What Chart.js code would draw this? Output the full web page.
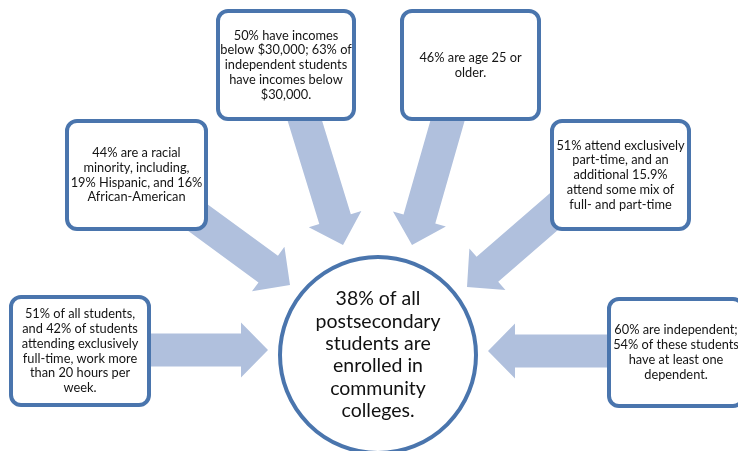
<!DOCTYPE html>
<html>
<head>
<meta charset="utf-8">
<script src="https://cdn.jsdelivr.net/npm/chart.js@4/dist/chart.umd.min.js"></script>
<style>
  html, body { margin: 0; padding: 0; background: #fff; }
  #wrap { width: 738px; height: 451px; position: relative; }
</style>
</head>
<body>
<div id="wrap"><canvas id="chart"></canvas></div>
<script>
// ── DATA ──
const CENTER_LINES = ['38% of all', 'postsecondary', 'students are', 'enrolled in', 'community', 'colleges.'];

const FACT_INCOME = ['50% have incomes', 'below $30,000; 63% of', 'independent students', 'have incomes below', '$30,000.'];
const FACT_RACE = ['44% are a racial', 'minority, including,', '19% Hispanic, and 16%', 'African-American'];
const FACT_AGE = ['46% are age 25 or', 'older.'];
const FACT_PARTTIME = ['51% attend exclusively', 'part-time, and an', 'additional 15.9%', 'attend some mix of', 'full- and part-time'];
const FACT_WORK = ['51% of all students,', 'and 42% of students', 'attending exclusively', 'full-time, work more', 'than 20 hours per', 'week.'];
const FACT_INDEPENDENT = ['60% are independent;', '54% of these students', 'have at least one', 'dependent.'];

// ── LAYOUT (diagram geometry, in canvas units) ──
const HUB = { x: 378, y: 355, r: 98 };
const BOXES = [
    { text: FACT_INCOME,      x0: 216, y0: 9,   x1: 356, y1: 121 },
    { text: FACT_RACE,        x0: 65,  y0: 119, x1: 208, y1: 231 },
    { text: FACT_AGE,         x0: 400, y0: 9,   x1: 541, y1: 121 },
    { text: FACT_PARTTIME,    x0: 550, y0: 119, x1: 691, y1: 231 },
    { text: FACT_WORK,        x0: 9,   y0: 295, x1: 151, y1: 407 },
    { text: FACT_INDEPENDENT, x0: 607, y0: 297, x1: 745, y1: 408 },
];
const ARROWS = [
    { from: [300, 105], to: [343, 245] },
    { from: [197, 217], to: [290, 285] },
    { from: [452, 105], to: [412, 245] },
    { from: [565, 202], to: [467, 287] },
    { from: [140, 350], to: [268, 350] },
    { from: [620, 351], to: [488, 351] },
];

const BORDER = '#4A75AD';
const ARROW_FILL = '#B0C0DD';
const TEXT = '#141414';
const FONT = 'Lato, "Open Sans", sans-serif';

const diagramPlugin = {
    id: 'diagram',
    beforeDatasetsDraw(chart) {
        const { ctx, scales: { x, y } } = chart;
        ctx.save();
        ctx.fillStyle = ARROW_FILL;
        ARROWS.forEach(a => {
            const sx = x.getPixelForValue(a.from[0]), sy = y.getPixelForValue(a.from[1]);
            const tx = x.getPixelForValue(a.to[0]), ty = y.getPixelForValue(a.to[1]);
            const len = Math.hypot(tx - sx, ty - sy);
            const ang = Math.atan2(ty - sy, tx - sx);
            const shaft = 16.5, head = 27.5, headLen = 27;
            ctx.save();
            ctx.translate(sx, sy);
            ctx.rotate(ang);
            ctx.beginPath();
            ctx.moveTo(0, -shaft);
            ctx.lineTo(len - headLen, -shaft);
            ctx.lineTo(len - headLen, -head);
            ctx.lineTo(len, 0);
            ctx.lineTo(len - headLen, head);
            ctx.lineTo(len - headLen, shaft);
            ctx.lineTo(0, shaft);
            ctx.closePath();
            ctx.fill();
            ctx.restore();
        });
        ctx.restore();
    },
    afterDatasetsDraw(chart) {
        const { ctx, scales: { x, y } } = chart;
        ctx.save();
        // fact boxes
        BOXES.forEach(b => {
            const x0 = x.getPixelForValue(b.x0), x1 = x.getPixelForValue(b.x1);
            const y0 = y.getPixelForValue(b.y0), y1 = y.getPixelForValue(b.y1);
            ctx.beginPath();
            ctx.roundRect(x0 + 2, y0 + 2, x1 - x0 - 4, y1 - y0 - 4, 10);
            ctx.fillStyle = '#fff';
            ctx.fill();
            ctx.lineWidth = 4;
            ctx.strokeStyle = BORDER;
            ctx.stroke();

            const lh = 14.8;
            const cx = (x0 + x1) / 2, cy = (y0 + y1) / 2;
            const top = cy - (b.text.length - 1) * lh / 2;
            ctx.font = '12.8px ' + FONT;
            ctx.fillStyle = TEXT;
            ctx.textAlign = 'center';
            ctx.textBaseline = 'middle';
            b.text.forEach((line, i) => ctx.fillText(line, cx, top + i * lh));
        });
        // hub text
        const hx = x.getPixelForValue(HUB.x), hy = y.getPixelForValue(HUB.y);
        const lh = 22.4;
        const top = hy - (CENTER_LINES.length - 1) * lh / 2;
        ctx.font = '19.5px ' + FONT;
        ctx.fillStyle = '#111';
        ctx.textAlign = 'center';
        ctx.textBaseline = 'middle';
        CENTER_LINES.forEach((line, i) => ctx.fillText(line, hx, top + i * lh));
        ctx.restore();
    }
};

new Chart(document.getElementById('chart'), {
    type: 'bubble',
    data: {
        datasets: [{
            label: 'hub',
            data: [{ x: HUB.x, y: HUB.y, r: HUB.r }],
            backgroundColor: '#fff',
            borderColor: BORDER,
            borderWidth: 4,
            hoverRadius: 0,
            clip: false,
        }]
    },
    options: {
        responsive: true,
        maintainAspectRatio: false,
        animation: false,
        layout: { padding: 0, autoPadding: false },
        scales: {
            x: { type: 'linear', min: 0, max: 738, display: false },
            y: { type: 'linear', min: 0, max: 451, reverse: true, display: false }
        },
        plugins: {
            legend: { display: false },
            tooltip: { enabled: false }
        },
        events: []
    },
    plugins: [diagramPlugin]
});
</script>
</body>
</html>
